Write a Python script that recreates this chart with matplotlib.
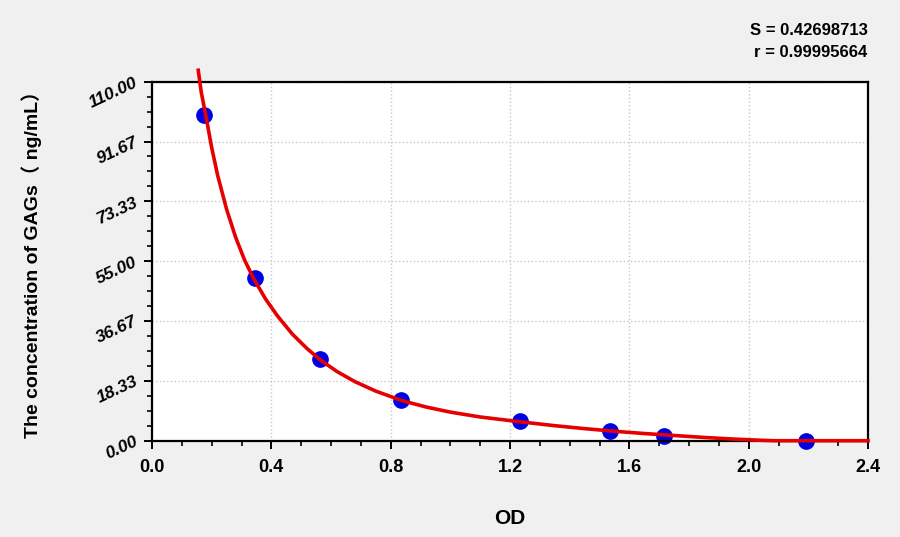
import numpy as np
import matplotlib.pyplot as plt
from matplotlib.ticker import MultipleLocator, FormatStrFormatter

# standard points (OD, concentration)
od_points = [0.174, 0.345, 0.563, 0.835, 1.233, 1.535, 1.717, 2.193]
conc_points = [99.8, 49.8, 24.9, 12.4, 5.9, 3.0, 1.4, 0.0]

# fitted curve
od_curve = [0.155, 0.165, 0.180, 0.200, 0.220, 0.250, 0.280, 0.310, 0.340,
            0.380, 0.420, 0.470, 0.520, 0.565, 0.620, 0.680, 0.750, 0.837,
            0.920, 1.000, 1.100, 1.234, 1.350, 1.450, 1.550, 1.650, 1.750,
            1.850, 1.950, 2.050, 2.090, 2.400]
conc_curve = [113.5, 106.8, 99.8, 89.8, 81.3, 70.9, 62.4, 55.4, 49.8,
              43.5, 38.3, 32.7, 28.2, 24.7, 21.2, 18.1, 15.2, 12.3,
              10.3, 8.76, 7.27, 5.8, 4.6, 3.7, 2.9, 2.2, 1.6,
              1.0, 0.5, 0.1, 0.0, 0.0]

s_text = 'S = 0.42698713'
r_text = 'r = 0.99995664'
ylab = 'The concentration of GAGs\uff08 ng/mL\uff09'

plt.rcParams['font.family'] = ['Liberation Sans', 'Noto Sans CJK SC', 'DejaVu Sans']

fig = plt.figure(figsize=(9, 5.37), dpi=100, facecolor='#f0f0f0')
ax = fig.add_axes([0.1689, 0.1793, 0.7956, 0.6686])
ax.set_facecolor('white')

ax.plot(od_curve, conc_curve, color='#e60000', lw=2.6, clip_on=False, zorder=3)
ax.plot(od_points, conc_points, 'o', color='#0000e6', ms=11, mec='#0000e6',
        clip_on=False, zorder=2)

ax.set_xlim(0, 2.4)
ax.set_ylim(0, 110)
ax.xaxis.set_major_locator(MultipleLocator(0.4))
ax.xaxis.set_minor_locator(MultipleLocator(0.1))
ax.yaxis.set_major_locator(MultipleLocator(110 / 6))
ax.yaxis.set_minor_locator(MultipleLocator(110 / 24))
ax.xaxis.set_major_formatter(FormatStrFormatter('%.1f'))
ax.yaxis.set_major_formatter(FormatStrFormatter('%.2f'))

ax.grid(True, which='major', color='#c8c8c8', ls=':', lw=1)
ax.set_axisbelow(True)
for sp in ax.spines.values():
    sp.set_linewidth(1.6)

ax.tick_params(which='major', length=6, width=1.4, direction='out')
ax.tick_params(which='minor', length=3.5, width=1.2, direction='out')
ax.tick_params(axis='x', pad=7)
ax.tick_params(axis='y', pad=5)
for lab in ax.get_xticklabels():
    lab.set_fontsize(13)
    lab.set_fontweight('bold')
for lab in ax.get_yticklabels():
    lab.set_fontsize(12.5)
    lab.set_fontweight('bold')
    lab.set_fontstyle('italic')
    lab.set_rotation(25)
    lab.set_ha('right')
    lab.set_va('center')
    lab.set_rotation_mode('anchor')

ax.set_xlabel('OD', fontsize=15, fontweight='bold', labelpad=24)
ax.set_ylabel(ylab, fontsize=14, fontweight='bold')
ax.yaxis.set_label_coords(-0.153, 0.503)

fig.text(0.964, 0.944, s_text, ha='right', va='center', fontsize=12, fontweight='bold')
fig.text(0.964, 0.903, r_text, ha='right', va='center', fontsize=12, fontweight='bold')

fig.savefig('out.png', dpi=100, facecolor=fig.get_facecolor())
